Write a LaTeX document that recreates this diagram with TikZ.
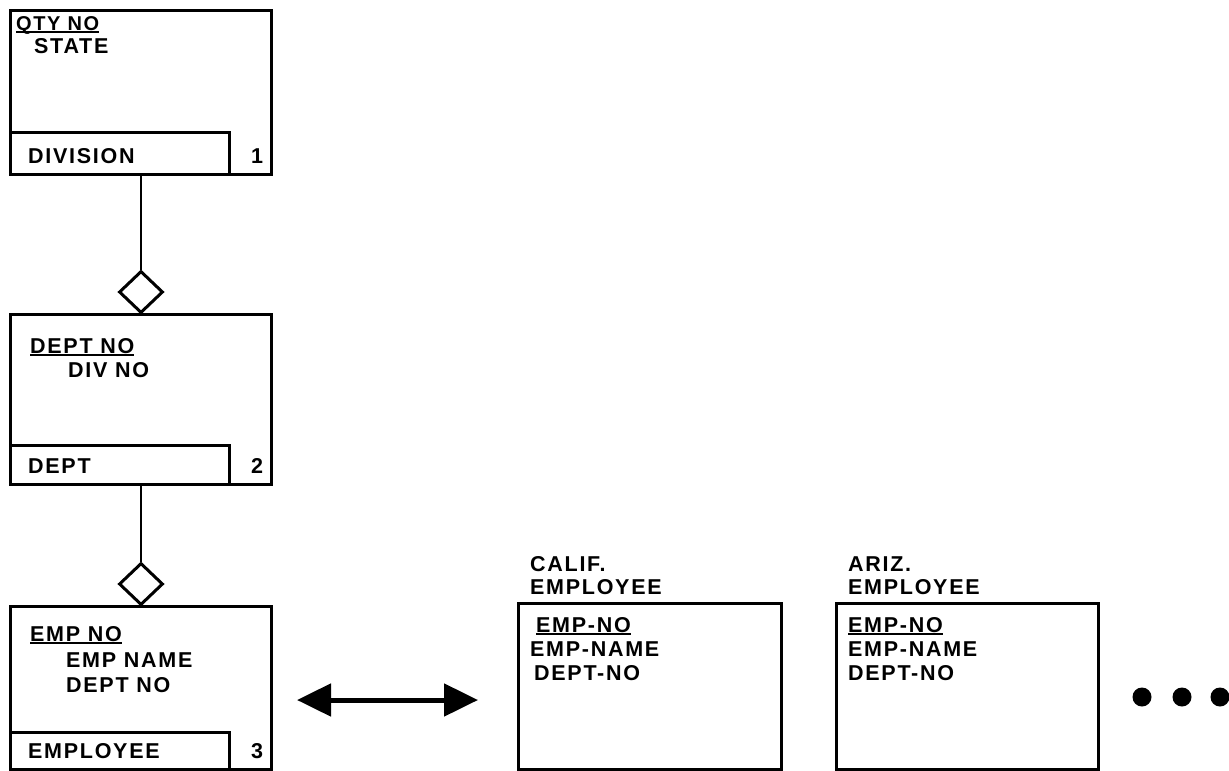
\documentclass[tikz,border=0pt]{standalone}
\usepackage{fontspec}
\setmainfont{Liberation Sans}[LetterSpace=8,BoldFont={Liberation Sans Bold}]
\usetikzlibrary{shapes.geometric,arrows.meta}
\newcommand\ulin[1]{\setbox0\hbox{#1}\rlap{\rule[-3pt]{\wd0}{1.8pt}}\box0}
\begin{document}
\begin{tikzpicture}[x=1pt,y=-1pt,
  box/.style={draw,line width=3pt,anchor=north west,inner sep=0pt},
  lbl/.style={anchor=base west,inner sep=0pt,font=\fontsize{21.5}{24}\selectfont\bfseries},
  num/.style={anchor=base,inner sep=0pt,font=\fontsize{21.5}{24}\selectfont\bfseries},
  rel/.style={draw,diamond,line width=3pt,minimum width=44pt,minimum height=42pt,inner sep=0pt},
  conn/.style={line width=2.5pt},
  dot/.style={circle,fill,inner sep=0pt,minimum size=19pt}]
\useasboundingbox (0,0) rectangle (1229,771);
% Box 1
\node[box,minimum width=261pt,minimum height=164pt] (b1) at (9,9) {};
\node[box,minimum width=219pt,minimum height=42pt] (l1) at (9,131) {};
\node[lbl,font=\fontsize{20}{22}\selectfont\bfseries] (t1a) at (16,30) {\ulin{QTY NO}};
\node[lbl] (t1b) at (34,53) {STATE};
\node[lbl] (t1c) at (28,163) {DIVISION};
\node[num] (n1) at (257,163) {1};
% Diamond 1
\node[rel] (d1) at (141,292) {};
% Box 2
\node[box,minimum width=261pt,minimum height=170pt] (b2) at (9,313) {};
\node[box,minimum width=219pt,minimum height=39pt] (l2) at (9,444) {};
\node[lbl] (t2a) at (30,353) {\ulin{DEPT NO}};
\node[lbl] (t2b) at (68,377) {DIV NO};
\node[lbl] (t2c) at (28,473) {DEPT};
\node[num] (n2) at (257,473) {2};
% Diamond 2
\node[rel] (d2) at (141,584) {};
% Box 3
\node[box,minimum width=261pt,minimum height=163pt] (b3) at (9,605) {};
\node[box,minimum width=219pt,minimum height=37pt] (l3) at (9,731) {};
\node[lbl] (t3a) at (30,641) {\ulin{EMP NO}};
\node[lbl] (t3b) at (66,667) {EMP NAME};
\node[lbl] (t3c) at (66,692) {DEPT NO};
\node[lbl] (t3d) at (28,758) {EMPLOYEE};
\node[num] (n3) at (257,758) {3};
% connectors
\draw[conn] (b1.south) -- (d1.north);
\draw[conn] (b2.south) -- (d2.north);
% double arrow
\coordinate (a1) at (297,700);
\coordinate (a2) at (478,700);
\draw[line width=5pt,{Triangle[length=34pt,width=32pt]}-{Triangle[length=34pt,width=32pt]}] (a1) -- (a2);
% Calif box
\node[lbl] (c0) at (530,571) {CALIF.};
\node[lbl] (c1) at (530,594) {EMPLOYEE};
\node[box,minimum width=263pt,minimum height=166pt] (bc) at (517,602) {};
\node[lbl] (c2) at (536,632) {\ulin{EMP-NO}};
\node[lbl] (c3) at (530,656) {EMP-NAME};
\node[lbl] (c4) at (534,680) {DEPT-NO};
% Ariz box
\node[lbl] (z0) at (848,571) {ARIZ.};
\node[lbl] (z1) at (848,594) {EMPLOYEE};
\node[box,minimum width=262pt,minimum height=166pt] (bz) at (835,602) {};
\node[lbl] (z2) at (848,632) {\ulin{EMP-NO}};
\node[lbl] (z3) at (848,656) {EMP-NAME};
\node[lbl] (z4) at (848,680) {DEPT-NO};
% dots
\node[dot] (p1) at (1142,697) {};
\node[dot] (p2) at (1182,697) {};
\node[dot] (p3) at (1220,697) {};
\end{tikzpicture}
\end{document}
